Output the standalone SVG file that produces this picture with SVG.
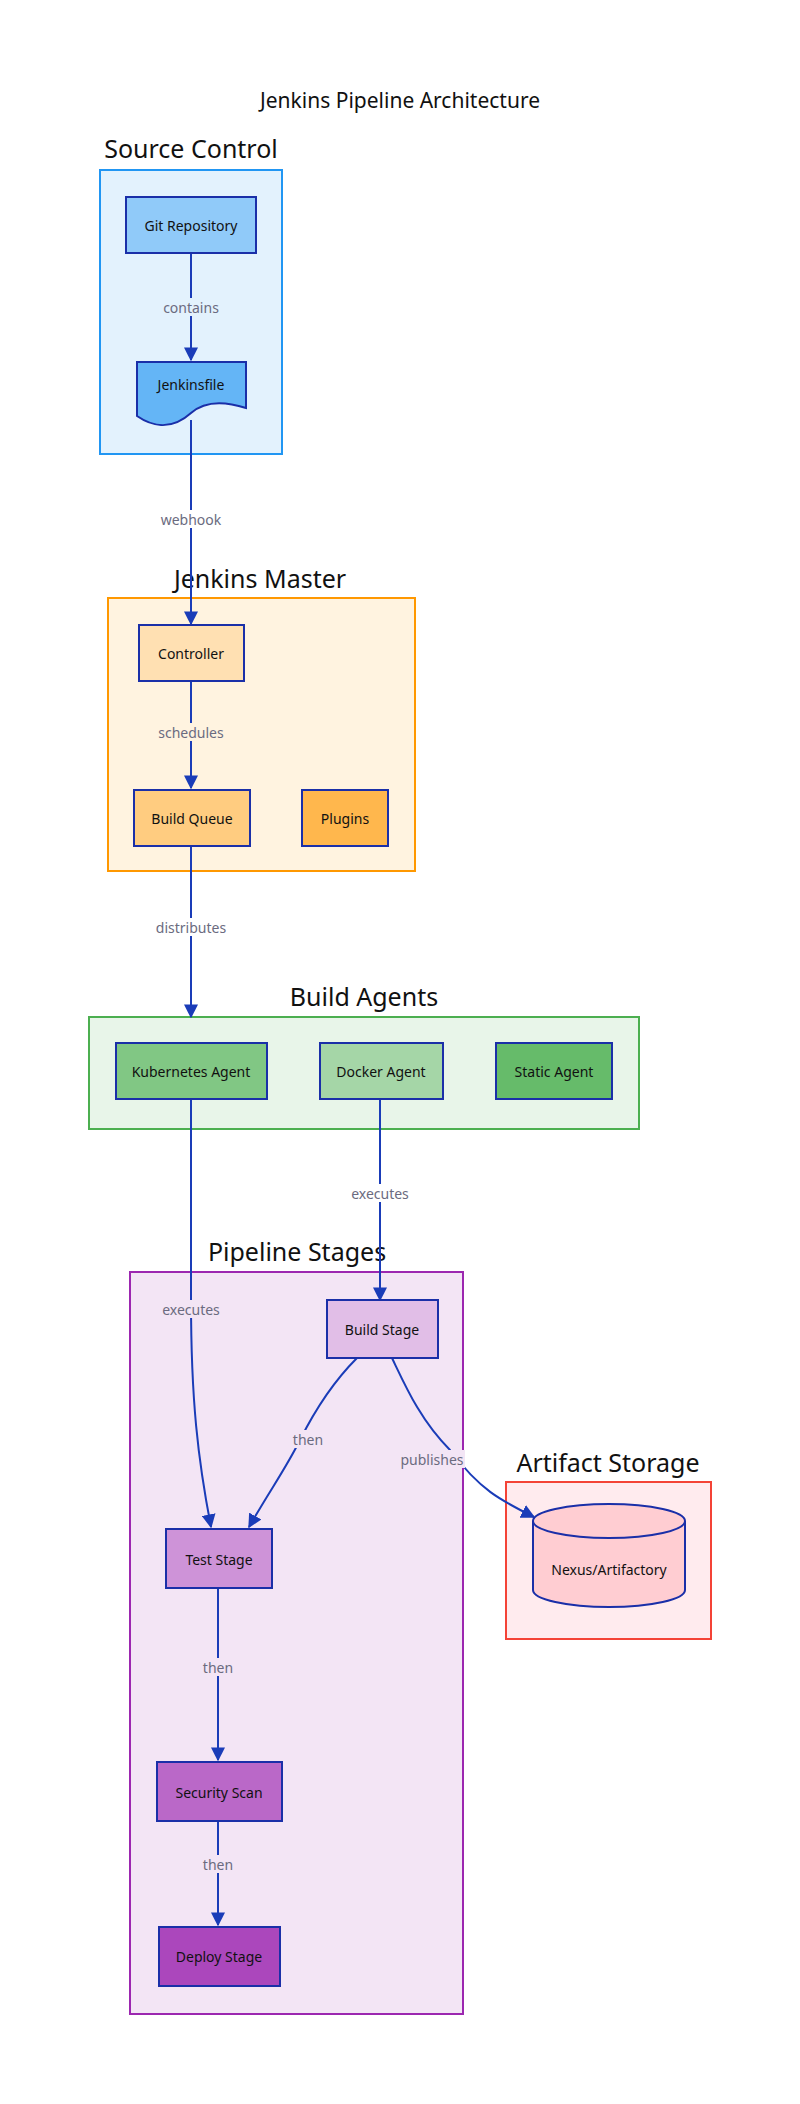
<svg xmlns="http://www.w3.org/2000/svg" width="800" height="2104" viewBox="0 0 800 2104">
<defs>
<marker id="ah" viewBox="0 0 10 10" refX="9" refY="5" markerWidth="7" markerHeight="7" orient="auto"><path d="M0,0 L10,5 L0,10 z" fill="#1a3cb8"/></marker>
<style>
text{font-family:"Noto Sans","Open Sans",sans-serif;}
.t{font-size:14px;fill:#111;text-anchor:middle;dominant-baseline:central}
.ct{font-size:25px;fill:#111;text-anchor:middle}
.lbl{font-size:14px;fill:#6b6b80;text-anchor:middle;dominant-baseline:central}
.n{stroke:#1a2fa8;stroke-width:2}
.e{fill:none;stroke:#1a3cb8;stroke-width:2;marker-end:url(#ah)}
</style>
</defs>
<rect width="800" height="2104" fill="#fff"/>
<text x="400" y="108" font-size="21" fill="#111" text-anchor="middle">Jenkins Pipeline Architecture</text>

<g id="cluster-source"><rect x="100" y="170" width="182" height="284" fill="#e3f2fd" stroke="#2196f3" stroke-width="2"/><text class="ct" x="191" y="158">Source Control</text></g>
<g id="cluster-master"><rect x="108" y="598" width="307" height="273" fill="#fff3e0" stroke="#ff9800" stroke-width="2"/><text class="ct" x="260" y="588">Jenkins Master</text></g>
<g id="cluster-agents"><rect x="89" y="1017" width="550" height="112" fill="#e8f5e9" stroke="#4caf50" stroke-width="2"/><text class="ct" x="364" y="1006">Build Agents</text></g>
<g id="cluster-stages"><rect x="130" y="1272" width="333" height="742" fill="#f3e5f5" stroke="#9c27b0" stroke-width="2"/><text class="ct" x="297" y="1261">Pipeline Stages</text></g>
<g id="cluster-artifact"><rect x="506" y="1482" width="205" height="157" fill="#ffebee" stroke="#f44336" stroke-width="2"/><text class="ct" x="608" y="1472">Artifact Storage</text></g>

<g id="connectors">
<path class="e" d="M191,253 V360"/>
<path class="e" d="M191,420 V624"/>
<path class="e" d="M191,679 V788"/>
<path class="e" d="M191,843 V1017"/>
<path class="e" d="M191,1095 V1300 C191,1400 198,1460 211,1527"/>
<path class="e" d="M380,1095 V1300"/>
<path class="e" d="M357,1358 C330,1385 310,1420 300,1440 C285,1470 270,1490 249,1527"/>
<path class="e" d="M392,1358 C405,1385 420,1420 450,1450 C480,1490 500,1500 534,1517"/>
<path class="e" d="M218,1588 V1760"/>
<path class="e" d="M218,1822 V1925"/>
<rect x="158" y="298" width="66" height="18" fill="#e3f2fd"/><text class="lbl" x="191" y="307">contains</text>
<rect x="158" y="510" width="66" height="18" fill="#fff"/><text class="lbl" x="191" y="519">webhook</text>
<rect x="153" y="723" width="76" height="18" fill="#fff3e0"/><text class="lbl" x="191" y="732">schedules</text>
<rect x="153" y="918" width="76" height="18" fill="#fff"/><text class="lbl" x="191" y="927">distributes</text>
<rect x="349" y="1184" width="62" height="18" fill="#fff"/><text class="lbl" x="380" y="1193">executes</text>
<rect x="160" y="1300" width="62" height="18" fill="#f3e5f5"/><text class="lbl" x="191" y="1309">executes</text>
<rect x="291" y="1430" width="34" height="18" fill="#f3e5f5"/><text class="lbl" x="308" y="1439">then</text>
<rect x="401" y="1450" width="64" height="18" fill="#f3e5f5"/><text class="lbl" x="432" y="1459">publishes</text>
<rect x="201" y="1658" width="34" height="18" fill="#f3e5f5"/><text class="lbl" x="218" y="1667">then</text>
<rect x="201" y="1855" width="34" height="18" fill="#f3e5f5"/><text class="lbl" x="218" y="1864">then</text>
</g>

<g id="git"><rect class="n" x="126" y="197" width="130" height="56" fill="#90caf9"/><text class="t" x="191" y="225">Git Repository</text></g>
<g id="jenkinsfile"><path class="n" d="M137,362 H246 V408 C215,398 200,405 191,413 C170,432 150,425 137,416 Z" fill="#64b5f6"/><text class="t" x="191" y="384">Jenkinsfile</text></g>
<g id="controller"><rect class="n" x="139" y="625" width="105" height="56" fill="#ffe0b2"/><text class="t" x="191" y="653">Controller</text></g>
<g id="queue"><rect class="n" x="134" y="790" width="116" height="56" fill="#ffcc80"/><text class="t" x="192" y="818">Build Queue</text></g>
<g id="plugins"><rect class="n" x="302" y="790" width="86" height="56" fill="#ffb74d"/><text class="t" x="345" y="818">Plugins</text></g>
<g id="k8s"><rect class="n" x="116" y="1043" width="151" height="56" fill="#81c784"/><text class="t" x="191" y="1071">Kubernetes Agent</text></g>
<g id="docker"><rect class="n" x="320" y="1043" width="123" height="56" fill="#a5d6a7"/><text class="t" x="381" y="1071">Docker Agent</text></g>
<g id="static"><rect class="n" x="496" y="1043" width="116" height="56" fill="#66bb6a"/><text class="t" x="554" y="1071">Static Agent</text></g>
<g id="build"><rect class="n" x="327" y="1300" width="111" height="58" fill="#e1bee7"/><text class="t" x="382" y="1329">Build Stage</text></g>
<g id="test"><rect class="n" x="166" y="1529" width="106" height="59" fill="#ce93d8"/><text class="t" x="219" y="1559">Test Stage</text></g>
<g id="security"><rect class="n" x="157" y="1762" width="125" height="59" fill="#ba68c8"/><text class="t" x="219" y="1792">Security Scan</text></g>
<g id="deploy"><rect class="n" x="159" y="1927" width="121" height="59" fill="#ab47bc"/><text class="t" x="219" y="1956">Deploy Stage</text></g>
<g id="nexus"><path class="n" d="M533,1521 V1590 A76,17 0 0 0 685,1590 V1521" fill="#ffcdd2"/><ellipse class="n" cx="609" cy="1521" rx="76" ry="17" fill="#ffcdd2"/><text class="t" x="609" y="1569">Nexus/Artifactory</text></g>
</svg>
